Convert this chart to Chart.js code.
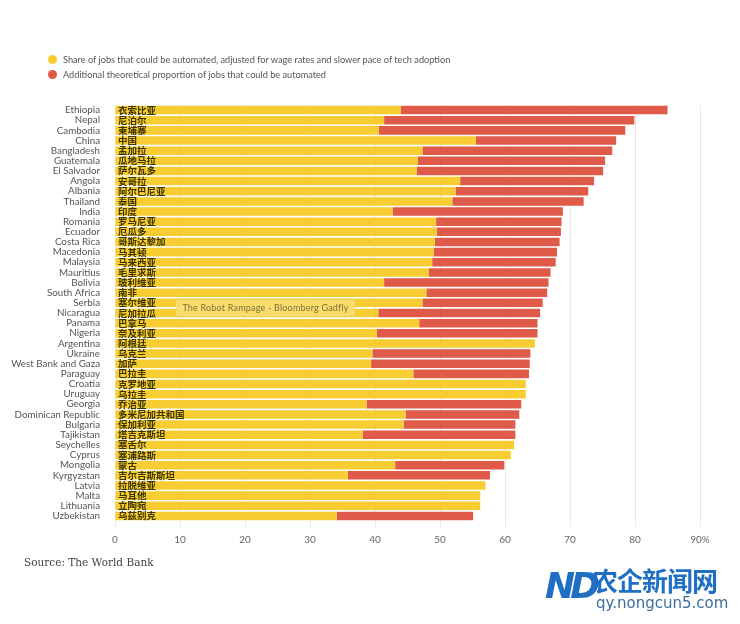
<!DOCTYPE html>
<html>
<head>
<meta charset="utf-8">
<script src="https://cdn.jsdelivr.net/npm/chart.js@4"></script>
<style>
  body { margin: 0; background: #fff; }
  #wrap { position: relative; width: 740px; height: 624px; }
  #grafico { position: absolute; left: 0; top: 0; }
  .leg { position: absolute; left: 48px; font: 9.2px Lato, sans-serif; color: #555; white-space: nowrap; }
  .leg span { display: inline-block; width: 9px; height: 9px; border-radius: 50%; margin-right: 6px; vertical-align: -1px; }
  #nota { position: absolute; left: 176px; top: 300px; width: 179px; height: 16px; box-sizing: border-box;
          background: rgba(250, 222, 110, 0.9); border: 1px solid #f0dc8c; border-radius: 2px; white-space: nowrap;
          font: 9px Lato, sans-serif; color: #7d6e3a; line-height: 14px; text-align: center; letter-spacing: 0.2px; }
  #fonte { position: absolute; left: 24px; top: 556px; font: 10.5px "DejaVu Serif", serif; color: #444; }
  #marca { position: absolute; left: 545px; top: 563px; color: #1f6fc4; }
  #marca .nd { position: absolute; left: 0; top: 2px; font: italic bold 36px "DejaVu Sans", sans-serif; letter-spacing: -5px; }
  #marca .cn { position: absolute; left: 47px; top: 3px; font: bold 26px "Noto Sans CJK SC", sans-serif; white-space: nowrap; line-height: 28px; letter-spacing: -1px; }
  #marca .url { position: absolute; left: 51px; top: 31px; font: 15px "DejaVu Sans", sans-serif; color: #3b6e9e; white-space: nowrap; }
</style>
</head>
<body>
<div id="wrap">
  <canvas id="grafico" width="740" height="624"></canvas>
  <div id="legenda"></div>
  <div id="nota">The Robot Rampage - Bloomberg Gadfly</div>
  <div id="fonte">Source: The World Bank</div>
  <div id="marca"><span class="nd">ND</span><span class="cn">农企新闻网</span><span class="url">qy.nongcun5.com</span></div>
</div>
<script>
const paises = ['Ethiopia', 'Nepal', 'Cambodia', 'China', 'Bangladesh', 'Guatemala', 'El Salvador', 'Angola', 'Albania', 'Thailand',
  'India', 'Romania', 'Ecuador', 'Costa Rica', 'Macedonia', 'Malaysia', 'Mauritius', 'Bolivia', 'South Africa', 'Serbia',
  'Nicaragua', 'Panama', 'Nigeria', 'Argentina', 'Ukraine', 'West Bank and Gaza', 'Paraguay', 'Croatia', 'Uruguay', 'Georgia',
  'Dominican Republic', 'Bulgaria', 'Tajikistan', 'Seychelles', 'Cyprus', 'Mongolia', 'Kyrgyzstan', 'Latvia', 'Malta', 'Lithuania', 'Uzbekistan'];
const paisesCn = ['衣索比亚', '尼泊尔', '柬埔寨', '中国', '孟加拉', '瓜地马拉', '萨尔瓦多', '安哥拉', '阿尔巴尼亚', '泰国',
  '印度', '罗马尼亚', '厄瓜多', '哥斯达黎加', '马其顿', '马来西亚', '毛里求斯', '玻利维亚', '南非', '塞尔维亚',
  '尼加拉瓜', '巴拿马', '奈及利亚', '阿根廷', '乌克兰', '加萨', '巴拉圭', '克罗地亚', '乌拉圭', '乔治亚',
  '多米尼加共和国', '保加利亚', '塔吉克斯坦', '塞舌尔', '塞浦路斯', '蒙古', '吉尔吉斯斯坦', '拉脱维亚', '马耳他', '立陶宛', '乌兹别克'];
// ajustado (amarelo)
const ajustado = [44.0, 41.4, 40.6, 55.5, 47.3, 46.6, 46.4, 53.1, 52.4, 51.9,
  42.7, 49.4, 49.5, 49.2, 49.0, 48.8, 48.3, 41.4, 47.9, 47.3,
  40.5, 46.8, 40.3, 64.6, 39.6, 39.4, 45.9, 63.2, 63.2, 38.7,
  44.7, 44.4, 38.1, 61.4, 60.9, 43.1, 35.8, 57.0, 56.2, 56.2, 34.1];
// adicional teorico (vermelho)
const adicional = [41.0, 38.5, 37.9, 21.6, 29.2, 28.8, 28.7, 20.6, 20.4, 20.2,
  26.2, 19.3, 19.1, 19.2, 19.0, 19.0, 18.7, 25.3, 18.6, 18.5,
  24.9, 18.2, 24.7, 0, 24.3, 24.4, 17.8, 0, 0, 23.8,
  17.5, 17.2, 23.5, 0, 0, 16.8, 21.9, 0, 0, 0, 21.0];
const ticksX = [0, 10, 20, 30, 40, 50, 60, 70, 80, 90];

const series = [
  { label: 'Share of jobs that could be automated, adjusted for wage rates and slower pace of tech adoption', data: ajustado, cor: '#f7cd32' },
  { label: 'Additional theoretical proportion of jobs that could be automated', data: adicional, cor: '#df5a48' }
];

// legenda em html
const leg = document.getElementById('legenda');
series.forEach((s, i) => {
  const d = document.createElement('div');
  d.className = 'leg';
  d.style.top = (54 + i * 15) + 'px';
  d.innerHTML = '<span style="background:' + s.cor + '"></span>' + s.label;
  leg.appendChild(d);
});

const rotulosCn = {
  id: 'rotulosCn',
  afterDatasetsDraw(chart) {
    const ctx = chart.ctx;
    const x0 = chart.scales.x.getPixelForValue(0);
    ctx.save();
    ctx.font = 'bold 9.5px "Noto Sans CJK SC"';
    ctx.fillStyle = '#3d3500';
    ctx.textBaseline = 'alphabetic';
    paisesCn.forEach((t, i) => {
      ctx.fillText(t, x0 + 3, chart.scales.y.getPixelForValue(i) + 3.5);
    });
    ctx.restore();
  }
};

new Chart(document.getElementById('grafico').getContext('2d'), {
  type: 'bar',
  data: {
    labels: paises,
    datasets: series.map(s => ({
      label: s.label,
      data: s.data,
      backgroundColor: s.cor,
      borderWidth: 0,
      barPercentage: 1,
      categoryPercentage: 0.84
    }))
  },
  options: {
    indexAxis: 'y',
    responsive: false,
    animation: false,
    layout: { padding: { top: 105, bottom: 73, right: 40, left: 0 } },
    plugins: { legend: { display: false }, tooltip: { enabled: false } },
    scales: {
      x: {
        stacked: true,
        min: 0,
        max: 90,
        afterBuildTicks: s => { s.ticks = ticksX.map(v => ({ value: v })); },
        afterFit: s => { s.height = 30; },
        ticks: {
          color: '#666',
          font: { family: 'Lato', size: 10 },
          padding: 7,
          callback: v => v === 90 ? '90%' : v
        },
        grid: { color: '#e8e8e8', tickLength: 6, drawTicks: true },
        border: { display: false }
      },
      y: {
        stacked: true,
        afterFit: s => { s.width = 115; },
        ticks: {
          color: '#555',
          font: { family: 'Lato', size: 9.8 },
          padding: 7,
          autoSkip: false
        },
        grid: { display: false },
        border: { display: false }
      }
    }
  },
  plugins: [rotulosCn]
});
</script>
</body>
</html>
